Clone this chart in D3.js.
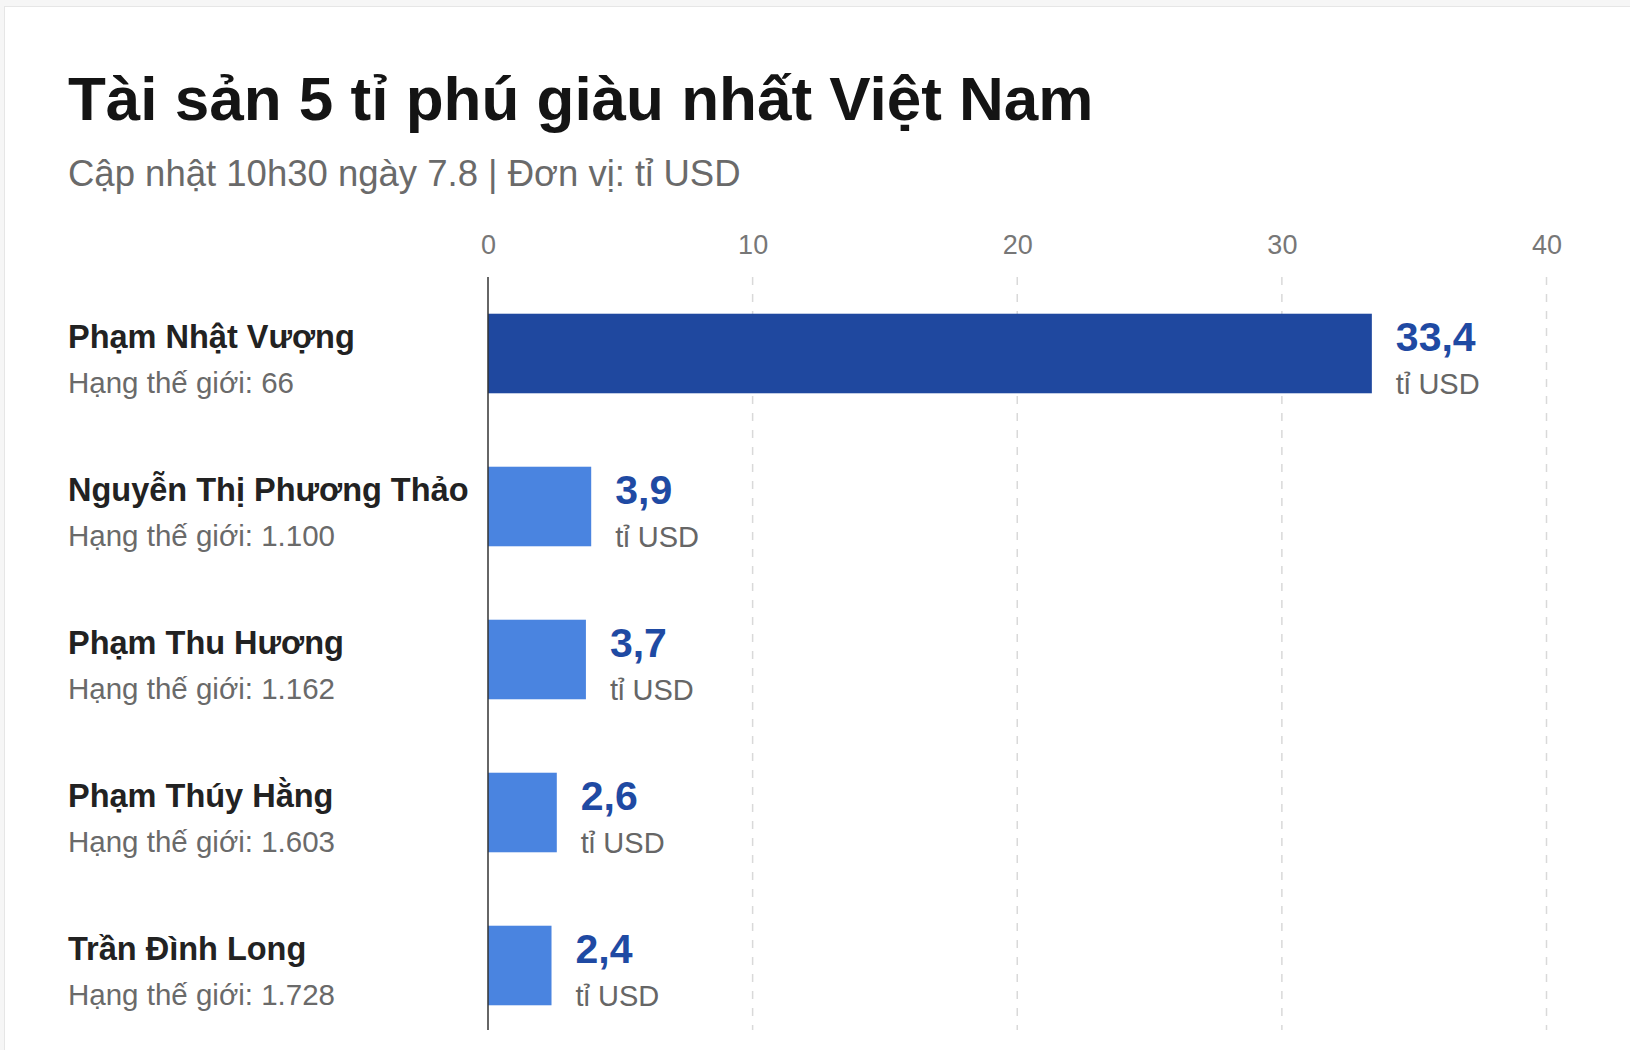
<!DOCTYPE html>
<html>
<head>
<meta charset="utf-8">
<script src="https://cdn.jsdelivr.net/npm/d3@7"></script>
<style>
  html, body { margin: 0; padding: 0; background: #f6f6f6; }
  svg { display: block; font-family: "Liberation Sans", Arial, Helvetica, sans-serif; }
</style>
</head>
<body>
<div id="chart"></div>
<script>
// chart data
const names = ["Phạm Nhật Vượng", "Nguyễn Thị Phương Thảo", "Phạm Thu Hương", "Phạm Thúy Hằng", "Trần Đình Long"];
const ranks = ["66", "1.100", "1.162", "1.603", "1.728"];
const values = [33.4, 3.9, 3.7, 2.6, 2.4];
const ticks = [0, 10, 20, 30, 40];

const W = 1630, H = 1050;

const svg = d3.select("#chart")
    .append("svg")
    .attr("width", W)
    .attr("height", H);

// card
svg.append("rect")
    .attr("x", 4.5).attr("y", 6.5)
    .attr("width", W - 4).attr("height", H)
    .attr("fill", "#fff")
    .attr("stroke", "#e6e6e6");

// title + subtitle
svg.append("text")
    .attr("x", 68).attr("y", 120)
    .attr("font-size", 62).attr("font-weight", "bold")
    .attr("fill", "#141414")
    .text("Tài sản 5 tỉ phú giàu nhất Việt Nam");

svg.append("text")
    .attr("x", 68).attr("y", 186)
    .attr("font-size", 36.5)
    .attr("fill", "#6a6a6a")
    .text("Cập nhật 10h30 ngày 7.8 | Đơn vị: tỉ USD");

const x = d3.scaleLinear().domain([0, 40]).range([488, 1546.5]);
const y = d3.scaleBand().domain(names).range([277, 1042])
    .paddingInner(0.48).paddingOuter(0.24);

// dashed grid
svg.append("g")
    .selectAll("line")
    .data(ticks.filter(t => t > 0))
    .join("line")
    .attr("x1", d => x(d)).attr("x2", d => x(d))
    .attr("y1", 277).attr("y2", 1030)
    .attr("stroke", "#d9d9d9")
    .attr("stroke-width", 1.5)
    .attr("stroke-dasharray", "8,9");

// top axis labels
const axis = svg.append("g")
    .attr("transform", "translate(0,254)")
    .call(d3.axisTop(x).tickValues(ticks).tickSize(0).tickPadding(0));
axis.select(".domain").remove();
axis.selectAll("text")
    .attr("font-size", 27)
    .attr("font-family", "Liberation Sans, Arial, sans-serif")
    .attr("fill", "#777")
    .attr("dy", 0);

// bars
svg.append("g")
    .selectAll("rect")
    .data(values)
    .join("rect")
    .attr("x", x(0))
    .attr("y", (d, i) => y(names[i]))
    .attr("width", d => x(d) - x(0))
    .attr("height", y.bandwidth())
    .attr("fill", (d, i) => i === 0 ? "#1f489f" : "#4a84e0");

// baseline
svg.append("line")
    .attr("x1", x(0)).attr("x2", x(0))
    .attr("y1", 277).attr("y2", 1030)
    .attr("stroke", "#333")
    .attr("stroke-width", 1.5);

// left labels
const rows = svg.append("g")
    .selectAll("g")
    .data(names)
    .join("g")
    .attr("transform", d => `translate(68,${y(d) + y.bandwidth() / 2})`);

rows.append("text")
    .attr("y", -6)
    .attr("font-size", 32.5).attr("font-weight", "bold")
    .attr("fill", "#222")
    .text(d => d);

rows.append("text")
    .attr("y", 39)
    .attr("font-size", 29.5)
    .attr("fill", "#6a6a6a")
    .text((d, i) => "Hạng thế giới: " + ranks[i]);

// value labels
const vals = svg.append("g")
    .selectAll("g")
    .data(values)
    .join("g")
    .attr("transform", (d, i) => `translate(${x(d) + 24},${y(names[i]) + y.bandwidth() / 2})`);

vals.append("text")
    .attr("y", -3)
    .attr("font-size", 41).attr("font-weight", "bold")
    .attr("fill", "#1f4aa3")
    .text(d => String(d).replace(".", ","));

vals.append("text")
    .attr("y", 40)
    .attr("font-size", 29)
    .attr("fill", "#666")
    .text("tỉ USD");
</script>
</body>
</html>
